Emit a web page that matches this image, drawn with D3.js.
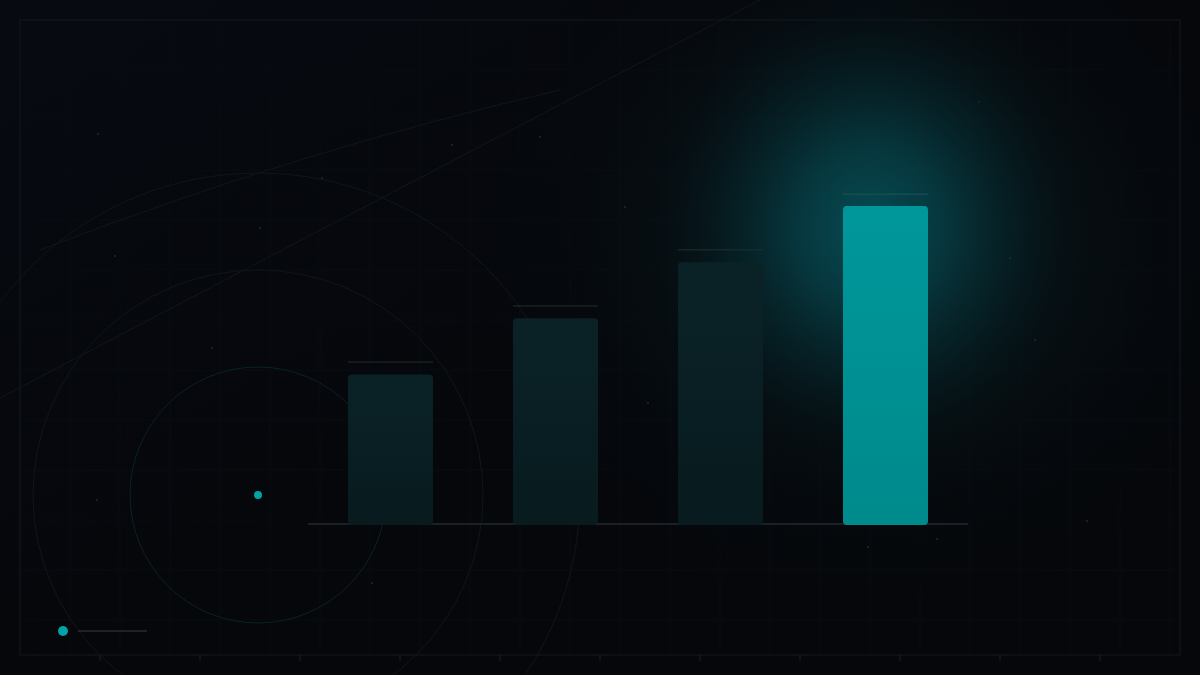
<!DOCTYPE html>
<html>
<head>
<meta charset="utf-8">
<script src="https://cdn.jsdelivr.net/npm/d3@7"></script>
<style>
  html, body { margin: 0; padding: 0; background: #05070a; }
  svg { display: block; }
</style>
</head>
<body>
<div id="chart-area"></div>
<script>
// Data
var categories = ["A", "B", "C", "D"];
var values = [40, 55, 70, 85];
var caps = [43.3, 58.3, 73.3, 88.2];
var highlight = "D";
var rings = [128, 225, 322];
var tickMarks = [100, 200, 300, 400, 500, 600, 700, 800, 900, 1000, 1100];
var specks = [[98, 134], [115, 256], [212, 348], [260, 228], [390, 440], [452, 145], [540, 137],
	[625, 207], [648, 403], [1010, 258], [1035, 340], [1087, 521], [868, 547], [937, 539], [372, 583],
	[97, 500], [322, 178], [979, 102]];

var W = 1200, H = 675;

var svg = d3.select("#chart-area").append("svg")
	.attr("width", W)
	.attr("height", H);

var defs = svg.append("defs");

var bg = defs.append("linearGradient")
	.attr("id", "bg").attr("x1", 0).attr("y1", 0).attr("x2", 1).attr("y2", 1);
bg.append("stop").attr("offset", "0%").attr("stop-color", "#070a11");
bg.append("stop").attr("offset", "50%").attr("stop-color", "#05070b");
bg.append("stop").attr("offset", "100%").attr("stop-color", "#05070a");

var glow = defs.append("radialGradient")
	.attr("id", "glow").attr("cx", 0.5).attr("cy", 0.5).attr("r", 0.5);
glow.append("stop").attr("offset", "0%").attr("stop-color", "#074b53").attr("stop-opacity", 1);
glow.append("stop").attr("offset", "30%").attr("stop-color", "#063f46").attr("stop-opacity", 0.8);
glow.append("stop").attr("offset", "60%").attr("stop-color", "#05272c").attr("stop-opacity", 0.5);
glow.append("stop").attr("offset", "100%").attr("stop-color", "#05070a").attr("stop-opacity", 0);

var halo = defs.append("radialGradient")
	.attr("id", "halo").attr("cx", 0.5).attr("cy", 0.5).attr("r", 0.5);
halo.append("stop").attr("offset", "0%").attr("stop-color", "#0a2a30").attr("stop-opacity", 0.7);
halo.append("stop").attr("offset", "100%").attr("stop-color", "#05070a").attr("stop-opacity", 0);

var hot = defs.append("linearGradient")
	.attr("id", "hot").attr("x1", 0).attr("y1", 0).attr("x2", 0).attr("y2", 1);
hot.append("stop").attr("offset", "0%").attr("stop-color", "#00979b");
hot.append("stop").attr("offset", "100%").attr("stop-color", "#008a8c");

var dim = defs.append("linearGradient")
	.attr("id", "dim").attr("x1", 0).attr("y1", 0).attr("x2", 0).attr("y2", 1);
dim.append("stop").attr("offset", "0%").attr("stop-color", "#0a2226");
dim.append("stop").attr("offset", "100%").attr("stop-color", "#081b1f");

// Background
svg.append("rect").attr("width", W).attr("height", H).attr("fill", "url(#bg)");

// Faint grid
var grid = svg.append("g").attr("stroke", "#080c10").attr("stroke-width", 1);
d3.range(70, 1180, 50).forEach(function(x) {
	grid.append("line").attr("x1", x).attr("x2", x).attr("y1", 20).attr("y2", 655);
});
d3.range(70, 655, 50).forEach(function(y) {
	grid.append("line").attr("x1", 20).attr("x2", 1180).attr("y1", y).attr("y2", y);
});

// Scales
var x = d3.scaleBand()
	.domain(categories)
	.range([308, 968])
	.paddingInner(0.485)
	.paddingOuter(0.2425);

var y = d3.scaleLinear()
	.domain([0, 100])
	.range([524, 150]);

// Glow behind the highlighted bar
var gx = x(highlight) + x.bandwidth() / 2 - 15;
svg.append("ellipse")
	.attr("cx", gx).attr("cy", y(values[3]) + 40)
	.attr("rx", 420).attr("ry", 380)
	.attr("fill", "url(#halo)");
svg.append("ellipse")
	.attr("cx", gx).attr("cy", y(values[3]) + 20)
	.attr("rx", 240).attr("ry", 260)
	.attr("fill", "url(#glow)");

// Decorative diagonal lines
var deco = svg.append("g").attr("fill", "none").attr("stroke", "#10161b").attr("stroke-width", 1);
deco.append("path").attr("d", "M0,398 Q320,230 760,0");
deco.append("path").attr("d", "M40,250 Q300,150 560,90");

// Concentric rings
var cx0 = 258, cy0 = 495;
svg.append("g").selectAll("circle").data(rings).enter()
	.append("circle")
		.attr("cx", cx0).attr("cy", cy0)
		.attr("r", function(d) { return d; })
		.attr("fill", "none")
		.attr("stroke", function(d, i) { return i === 0 ? "#0c2123" : "#0f161a"; })
		.attr("stroke-width", 1);
svg.append("circle").attr("cx", cx0).attr("cy", cy0).attr("r", 4).attr("fill", "#00a3a6");

// Specks
svg.append("g").selectAll("circle").data(specks).enter()
	.append("circle")
		.attr("cx", function(d) { return d[0]; })
		.attr("cy", function(d) { return d[1]; })
		.attr("r", 1)
		.attr("fill", "#1c2a30");

// Frame
svg.append("rect")
	.attr("x", 20).attr("y", 20).attr("width", 1160).attr("height", 635)
	.attr("fill", "none").attr("stroke", "#14191e").attr("stroke-width", 1);

svg.append("g").selectAll("line").data(tickMarks).enter()
	.append("line")
		.attr("x1", function(d) { return d; }).attr("x2", function(d) { return d; })
		.attr("y1", 655).attr("y2", 661)
		.attr("stroke", "#1c2228");

// Baseline
svg.append("line")
	.attr("x1", 308).attr("x2", 968)
	.attr("y1", y(0)).attr("y2", y(0))
	.attr("stroke", "#1b2024").attr("stroke-width", 2);

// Bars
var data = categories.map(function(c, i) { return { name: c, value: values[i], cap: caps[i] }; });

svg.append("g").selectAll("rect").data(data).enter()
	.append("rect")
		.attr("x", function(d) { return x(d.name); })
		.attr("y", function(d) { return y(d.value); })
		.attr("width", x.bandwidth())
		.attr("height", function(d) { return y(0) - y(d.value) + 1; })
		.attr("rx", 4)
		.attr("fill", function(d) { return d.name === highlight ? "url(#hot)" : "url(#dim)"; });

// Cap lines
svg.append("g").selectAll("line").data(data).enter()
	.append("line")
		.attr("x1", function(d) { return x(d.name); })
		.attr("x2", function(d) { return x(d.name) + x.bandwidth(); })
		.attr("y1", function(d) { return y(d.cap); })
		.attr("y2", function(d) { return y(d.cap); })
		.attr("stroke", function(d) { return d.name === highlight ? "#1d5559" : "#22302f"; })
		.attr("stroke-width", 1);

// Legend marker
svg.append("circle").attr("cx", 63).attr("cy", 631).attr("r", 5).attr("fill", "#00a3a6");
svg.append("line")
	.attr("x1", 78).attr("x2", 147).attr("y1", 631).attr("y2", 631)
	.attr("stroke", "#383d41").attr("stroke-width", 1);
</script>
</body>
</html>
